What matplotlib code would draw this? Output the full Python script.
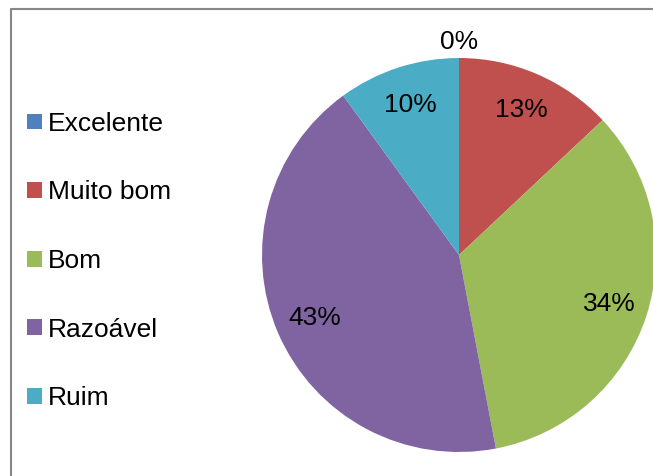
import numpy as np
import matplotlib.pyplot as plt
from matplotlib.lines import Line2D
from matplotlib.patches import Patch

plt.rcParams['font.family'] = ['Liberation Sans', 'DejaVu Sans']

# data
categories = ['Excelente', 'Muito bom', 'Bom', 'Razoável', 'Ruim']
shares = [0, 13, 34, 43, 10]
colors = ['#4F81BD', '#C0504D', '#9BBB59', '#8064A2', '#4BACC6']

W, H = 653, 476
fig = plt.figure(figsize=(W/100, H/100), dpi=100)

# outer frame: only left and top edges fall inside the picture
fx, fy = 10.5/W, 1 - 8.5/H
fig.add_artist(Line2D([fx, fx, 1.05], [-0.05, fy, fy],
                      transform=fig.transFigure, color='#878787',
                      linewidth=1.5))

# pie axes: centre (459, 255) px, radius 197 px
cx, cy, r = 459, 255, 197
ax = fig.add_axes([(cx - r)/W, (H - cy - r)/H, 2*r/W, 2*r/H])
wedges, texts, autotexts = ax.pie(shares, colors=colors, startangle=90,
                                  counterclock=False, pctdistance=0.8,
                                  autopct='%1.0f%%',
                                  wedgeprops=dict(linewidth=0),
                                  textprops=dict(fontsize=19, color='black'))
ax.set_xlim(-1, 1)
ax.set_ylim(-1, 1)
ax.set_aspect('equal')

# Excel puts the zero slice label just outside the pie
for w, t, v in zip(wedges, autotexts, shares):
    if v == 0:
        ang = np.radians(w.theta1)
        t.set_position((1.08*np.cos(ang), 1.08*np.sin(ang)))

handles = [Patch(facecolor=c, edgecolor='none') for c in colors]
fig.legend(handles, categories, loc='center left',
           bbox_to_anchor=(27/W, 1 - 261/H), frameon=False, fontsize=19,
           labelspacing=1.69, handlelength=0.55, handleheight=0.55,
           handletextpad=0.25, borderaxespad=0, borderpad=0)

fig.savefig('out.png', dpi=100)
